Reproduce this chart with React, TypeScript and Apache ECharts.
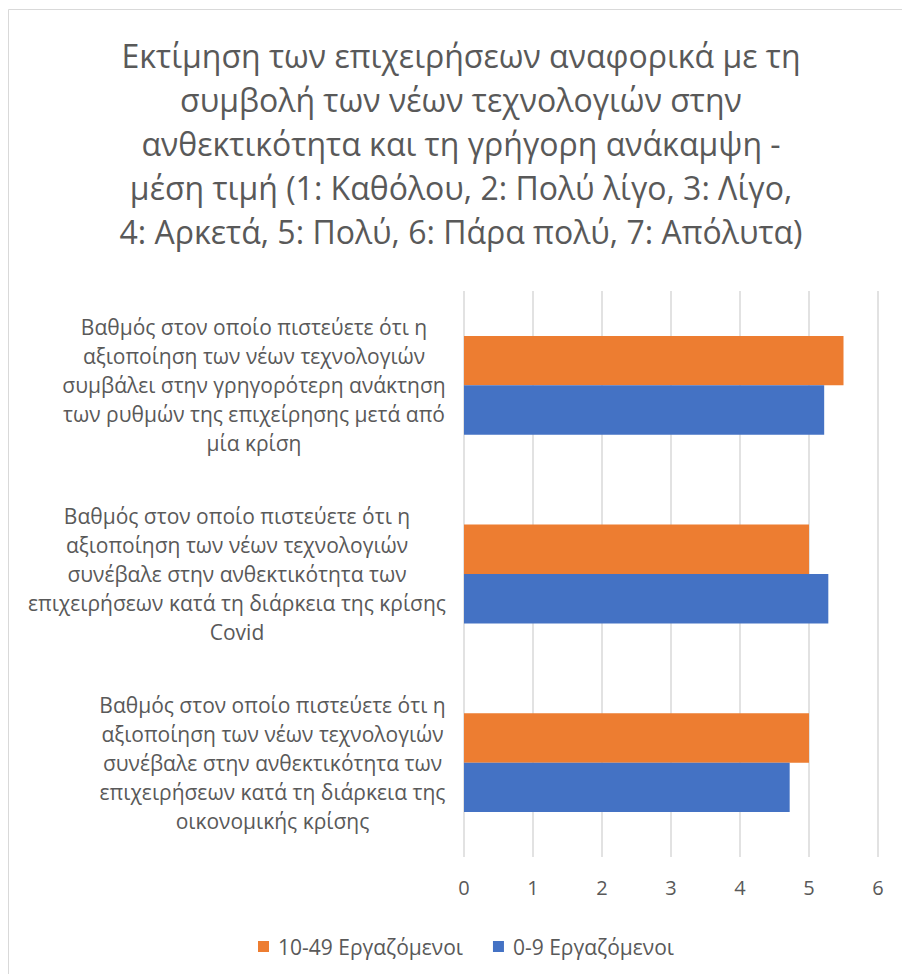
import React, { useEffect, useRef } from "react";
import * as echarts from "echarts";

const titleText =
  "Εκτίμηση των επιχειρήσεων αναφορικά με τη\nσυμβολή των νέων τεχνολογιών στην\nανθεκτικότητα και τη γρήγορη ανάκαμψη -\nμέση τιμή (1: Καθόλου, 2: Πολύ λίγο, 3: Λίγο,\n4: Αρκετά, 5: Πολύ, 6: Πάρα πολύ, 7: Απόλυτα)";

const categories = [
  "Βαθμός στον οποίο πιστεύετε ότι η\nαξιοποίηση των νέων τεχνολογιών\nσυμβάλει στην γρηγορότερη ανάκτηση\nτων ρυθμών της επιχείρησης μετά από\nμία κρίση",
  "Βαθμός στον οποίο πιστεύετε ότι η\nαξιοποίηση των νέων τεχνολογιών\nσυνέβαλε στην ανθεκτικότητα των\nεπιχειρήσεων κατά τη διάρκεια της κρίσης\nCovid",
  "Βαθμός στον οποίο πιστεύετε ότι η\nαξιοποίηση των νέων τεχνολογιών\nσυνέβαλε στην ανθεκτικότητα των\nεπιχειρήσεων κατά τη διάρκεια της\nοικονομικής κρίσης",
];

const seriesNames = ["10-49 Εργαζόμενοι", "0-9 Εργαζόμενοι"];
const values1049 = [5.5, 5.0, 5.0];
const values09 = [5.22, 5.28, 4.72];

const FONT = "'Open Sans', 'Noto Sans', sans-serif";
const TEXT = "#595959";
const Y_FONT_SIZE = 21;

function measureBlockWidths(labels: string[]): number[] {
  const canvas = document.createElement("canvas");
  const ctx = canvas.getContext("2d");
  if (!ctx) return labels.map(() => 400);
  ctx.font = `${Y_FONT_SIZE}px 'Open Sans', 'Noto Sans', sans-serif`;
  return labels.map((l) =>
    Math.ceil(Math.max(...l.split("\n").map((s) => ctx.measureText(s).width)))
  );
}

export default function App() {
  const ref = useRef<HTMLDivElement>(null);
  useEffect(() => {
    if (!ref.current) return;
    const chart = echarts.init(ref.current, null, { renderer: "svg" });
    const widths = measureBlockWidths(categories);
    const rich: Record<string, any> = {};
    widths.forEach((w, i) => {
      rich["l" + i] = {
        width: w,
        align: "center",
        fontFamily: FONT,
        fontSize: Y_FONT_SIZE,
        color: TEXT,
        lineHeight: 29,
      };
    });
    chart.setOption({
      animation: false,
      backgroundColor: "#ffffff",
      textStyle: { fontFamily: FONT },
      graphic: [
        {
          type: "rect",
          shape: { x: 8.5, y: 9.5, width: 1000, height: 1000 },
          style: { fill: "none", stroke: "#d9d9d9", lineWidth: 1 },
          silent: true,
        },
      ],
      title: {
        text: titleText,
        left: 461,
        top: 33,
        padding: 0,
        textAlign: "center",
        textStyle: {
          fontFamily: FONT,
          fontSize: 32,
          fontWeight: "normal",
          color: TEXT,
          lineHeight: 44,
        },
      },
      legend: {
        data: seriesNames,
        left: 253,
        top: 931,
        itemWidth: 11,
        itemHeight: 11,
        itemGap: 30,
        icon: "rect",
        textStyle: {
          fontFamily: FONT,
          fontSize: 21,
          color: TEXT,
          padding: [0, 0, 0, 4],
        },
      },
      grid: { left: 464, right: 24, top: 291, bottom: 117, containLabel: false },
      xAxis: {
        type: "value",
        min: 0,
        max: 6,
        interval: 1,
        axisLine: { show: false },
        axisTick: { show: false },
        splitLine: { lineStyle: { color: "#d9d9d9", width: 1.5 } },
        axisLabel: { fontFamily: FONT, fontSize: 20, color: TEXT, margin: 20 },
      },
      yAxis: {
        type: "category",
        data: categories,
        inverse: true,
        axisLine: { show: false },
        axisTick: { show: false },
        axisLabel: {
          fontFamily: FONT,
          fontSize: Y_FONT_SIZE,
          color: TEXT,
          lineHeight: 29,
          align: "right",
          margin: 18,
          rich,
          formatter: (value: string, index: number) =>
            value
              .split("\n")
              .map((s) => `{l${index}|${s}}`)
              .join("\n"),
        },
      },
      series: [
        {
          name: seriesNames[0],
          type: "bar",
          data: values1049,
          itemStyle: { color: "#ED7D31" },
          barGap: "0%",
          barCategoryGap: "47.6%",
        },
        {
          name: seriesNames[1],
          type: "bar",
          data: values09,
          itemStyle: { color: "#4472C4" },
          barGap: "0%",
          barCategoryGap: "47.6%",
        },
      ],
    });
    return () => chart.dispose();
  }, []);
  return (
    <div
      ref={ref}
      style={{ position: "fixed", left: 0, top: 0, width: 902, height: 974 }}
    />
  );
}
